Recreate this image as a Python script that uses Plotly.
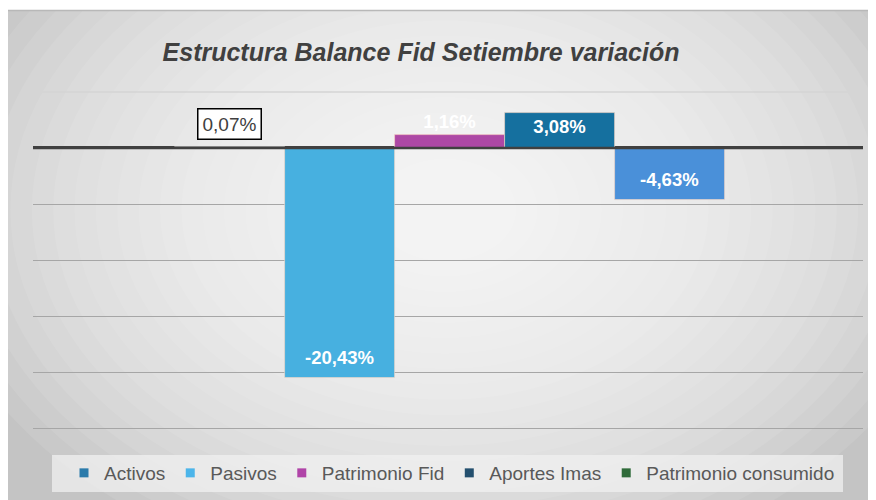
import plotly.graph_objects as go

# ---- data ----
series = ["Activos", "Pasivos", "Patrimonio Fid", "Aportes Imas", "Patrimonio consumido"]
values = [0.07, -20.43, 1.16, 3.08, -4.63]
bar_colors = ["#2b7bab", "#47b0e0", "#ad48a5", "#15709f", "#4a90d9"]
legend_colors = ["#2b7bab", "#4cb5ea", "#b044a8", "#234f6e", "#2f6b3a"]
title_text = "Estructura Balance Fid Setiembre variación"

W, H = 876, 500
OFF = 8  # page body margin
L, R, T, B = 25, 21, 84, 78
PW, PH = W - L - R, H - T - B

def px_x(p):  # screen px -> paper
    return (p - OFF - L) / PW

def px_y(p):
    return (H - B - (p - OFF)) / PH

FONT = "Liberation Sans, Arial, sans-serif"

def fmt(v):
    return f"{v:.2f}%".replace(".", ",")

fig = go.Figure()

for i, (name, v, c) in enumerate(zip(series, values, bar_colors)):
    if v > 0.5:
        tp = "outside" if v < 2 else "inside"
        tf = dict(color="white", size=18.5, family=FONT, weight="bold")
    else:
        tp, tf = "none", dict(color="white")
    fig.add_trace(go.Bar(
        x=[name], y=[v], name=name, showlegend=False,
        marker=dict(color=c, line=dict(color="rgba(250,215,195,0.75)", width=0.8)),
        texttemplate="%{y:.2f}%", textposition=tp, insidetextanchor="end",
        textfont=tf, cliponaxis=False,
    ))
    if v < 0:
        fig.add_annotation(
            x=name, y=v, yanchor="middle", yshift=20, text=fmt(v), showarrow=False,
            font=dict(family=FONT, size=18.5, color="white", weight="bold"),
        )

# legend entries (small square markers)
for name, c in zip(series, legend_colors):
    fig.add_trace(go.Scatter(
        x=[None], y=[None], mode="markers", name=name,
        marker=dict(symbol="square", size=9, color=c),
    ))

# boxed label for the first series
fig.add_annotation(
    x=series[0], y=values[0], yanchor="bottom", yshift=7,
    text=fmt(values[0]), showarrow=False,
    font=dict(family=FONT, size=19, color="#404040"),
    bgcolor="white", bordercolor="black", borderwidth=1.5, borderpad=4,
)

# ---- background: radial-ish gradient ----
shapes = []
shapes.append(dict(type="rect", xref="paper", yref="paper", layer="below",
                   x0=px_x(OFF), x1=px_x(W + 20), y0=px_y(10), y1=px_y(H + 20),
                   fillcolor="#c4c4c4", line=dict(width=0)))
cx, cy = 445, 210
N = 22
for k in range(N):
    rx = 520 - k * (470 / N)
    ry = rx * 0.72
    shapes.append(dict(type="circle", xref="paper", yref="paper", layer="below",
                       x0=px_x(cx - rx), x1=px_x(cx + rx),
                       y0=px_y(cy + ry), y1=px_y(cy - ry),
                       fillcolor="rgba(255,255,255,0.085)", line=dict(width=0)))
# mask overflow above the chart frame
shapes.append(dict(type="rect", xref="paper", yref="paper", layer="below",
                   x0=px_x(-40), x1=px_x(W + 40), y0=px_y(10), y1=px_y(-60),
                   fillcolor="white", line=dict(width=0)))
shapes.append(dict(type="line", xref="paper", yref="paper", layer="below",
                   x0=px_x(OFF), x1=px_x(W + 20), y0=px_y(10.5), y1=px_y(10.5),
                   line=dict(color="#b8b8b8", width=1.5)))
# legend box
shapes.append(dict(type="rect", xref="paper", yref="paper", layer="below",
                   x0=px_x(52), x1=px_x(843), y0=px_y(455), y1=px_y(492),
                   fillcolor="rgba(240,240,240,0.75)", line=dict(width=0)))
# faint top gridline
shapes.append(dict(type="line", xref="paper", yref="paper", layer="below",
                   x0=0, x1=1, y0=px_y(92), y1=px_y(92),
                   line=dict(color="#d4d4d4", width=1.3)))
# zero axis line drawn above the bars
shapes.append(dict(type="line", xref="paper", yref="y", layer="above",
                   x0=0, x1=1, y0=0, y1=0,
                   line=dict(color="#404040", width=2.6)))

fig.update_layout(
    width=W, height=H,
    margin=dict(l=L, r=R, t=T, b=B, pad=0),
    paper_bgcolor="white", plot_bgcolor="rgba(0,0,0,0)",
    barmode="overlay", bargap=0,
    separators=",.",
    shapes=shapes,
    title=dict(text=title_text, x=(421 - OFF) / W, xanchor="center",
               y=1 - (52 - OFF) / H, yanchor="middle",
               font=dict(family=FONT, size=25, color="#404040", weight="bold", style="italic")),
    legend=dict(orientation="h", x=px_x(452), xanchor="center", y=px_y(473), yanchor="middle",
                bgcolor="rgba(0,0,0,0)", font=dict(family=FONT, size=19, color="#595959"),
                itemclick=False, tracegroupgap=0),
    xaxis=dict(type="category", categoryorder="array", categoryarray=series,
               range=[-1.79, 5.755], showticklabels=False, showgrid=False,
               zeroline=False, showline=False, ticks=""),
    yaxis=dict(range=[-25.1, 4.98], dtick=5, showticklabels=False,
               gridcolor="#a6a6a6", gridwidth=1.3,
               zeroline=True, zerolinecolor="#404040", zerolinewidth=2.6,
               showline=False, ticks=""),
    font=dict(family=FONT),
)

fig.write_html("out.html")
